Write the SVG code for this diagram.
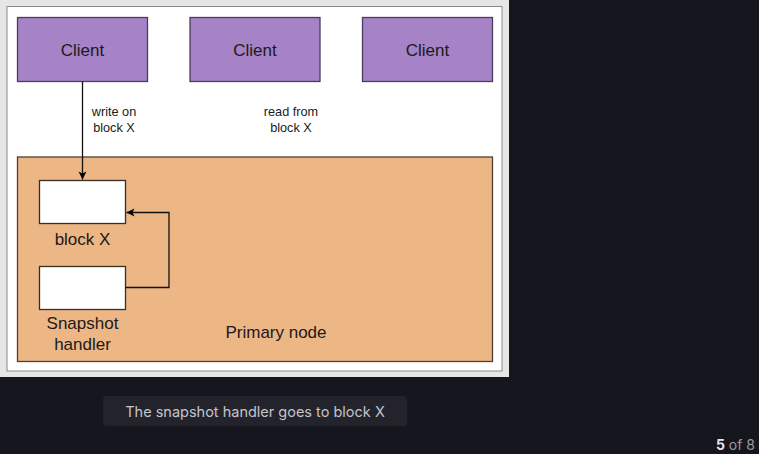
<svg xmlns="http://www.w3.org/2000/svg" width="759" height="454" viewBox="0 0 759 454">
<defs>
<marker id="arr" markerWidth="10" markerHeight="10" refX="9" refY="5" orient="auto" markerUnits="userSpaceOnUse">
<path d="M1,1 L9,5 L1,9 L3,5 Z" fill="#000"/>
</marker>
</defs>
<style>
.client{fill:#a682c6;stroke:#4b3d5c;stroke-width:1.3}
.lbl{font-family:"Liberation Sans",Arial,sans-serif;fill:#1a1a1a}
.big{font-size:17px}
.small{font-size:12.7px}
.blk{fill:#fff;stroke:#3a2e24;stroke-width:1.3}
.conn{fill:none;stroke:#111;stroke-width:1.3}
</style>
<rect x="0" y="0" width="759" height="454" fill="#16161e"/>
<g id="panel">
<rect x="0" y="0" width="509" height="377" fill="#e6e6e6"/>
<rect x="7" y="6.5" width="495" height="364.5" fill="#fff" stroke="#8a8a8a" stroke-width="1"/>
</g>
<g id="primary-node">
<rect x="17.5" y="157" width="475" height="204.5" fill="#edb685" stroke="#4f4033" stroke-width="1.3"/>
<text class="lbl big" x="276" y="337.5" text-anchor="middle">Primary node</text>
</g>
<g id="client1">
<rect class="client" x="17.5" y="17.5" width="130" height="64"/>
<text class="lbl big" x="82.5" y="56" text-anchor="middle">Client</text>
</g>
<g id="client2">
<rect class="client" x="190" y="17.5" width="130" height="64"/>
<text class="lbl big" x="255" y="56" text-anchor="middle">Client</text>
</g>
<g id="client3">
<rect class="client" x="362.5" y="17.5" width="130" height="64"/>
<text class="lbl big" x="427.5" y="56" text-anchor="middle">Client</text>
</g>
<g id="block-x">
<rect class="blk" x="39.5" y="180.5" width="86" height="43"/>
<text class="lbl big" x="82.5" y="244.5" text-anchor="middle">block X</text>
</g>
<g id="snapshot-handler">
<rect class="blk" x="39.5" y="266.5" width="86" height="43"/>
<text class="lbl big" x="82.5" y="328.5" text-anchor="middle">Snapshot</text>
<text class="lbl big" x="82.5" y="349.5" text-anchor="middle">handler</text>
</g>
<g id="connectors">
<path class="conn" d="M82.5,81.5 V179.5" marker-end="url(#arr)"/>
<text class="lbl small" x="114" y="116" text-anchor="middle">write on</text>
<text class="lbl small" x="114" y="132" text-anchor="middle">block X</text>
<text class="lbl small" x="291" y="116" text-anchor="middle">read from</text>
<text class="lbl small" x="291" y="132" text-anchor="middle">block X</text>
<path class="conn" d="M125.5,287.5 H169 V212.5 H126.5" marker-end="url(#arr)"/>
</g>
<g id="caption">
<rect x="103" y="396" width="304" height="30" rx="4" fill="#23232b"/>
<text x="255" y="416.5" text-anchor="middle" font-family="Inter,'Noto Sans',sans-serif" font-size="14.5" fill="#c4c4cc">The snapshot handler goes to block X</text>
</g>
<g id="pager">
<text x="755" y="450" text-anchor="end" font-family="Inter,'Noto Sans',sans-serif" font-size="14" fill="#9a9aa4"><tspan font-weight="bold" fill="#e6e6ea">5</tspan> of 8</text>
</g>
</svg>
